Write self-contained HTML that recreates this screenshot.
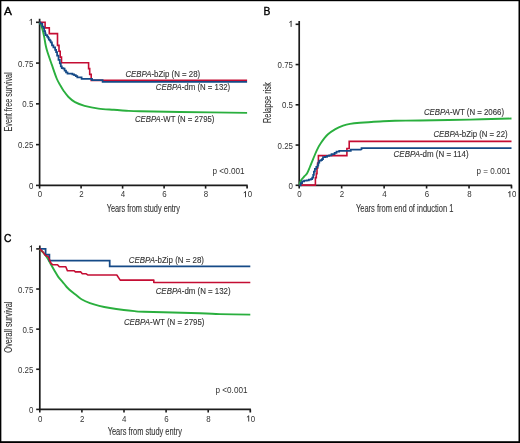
<!DOCTYPE html>
<html><head><meta charset="utf-8"><style>
html,body{margin:0;padding:0;background:#fff;}
body{width:520px;height:443px;overflow:hidden;position:relative;}
svg{position:absolute;left:0;top:0;display:block;will-change:transform;}
.t,.lg,.ti,.pv,.lab{font-family:"Liberation Sans",sans-serif;fill:#333333;}
.t{font-size:8.6px;}
.lg{font-size:8.5px;stroke:#333333;stroke-width:0.12px;}
.ti{font-size:10.4px;stroke:#333333;stroke-width:0.1px;}
.pv{font-size:8.5px;}
.lab{font-size:11.8px;font-weight:normal;fill:#000;stroke:#000;stroke-width:0.4px;}
</style></head><body>
<svg width="520" height="443" viewBox="0 0 520 443">
<rect x="0" y="0" width="520" height="443" fill="#fff"/>
<text x="4.0" y="15.4" class="lab">A</text>
<path d="M39.6,18.8 L39.6,185.4 L247.7,185.4 M247.1,185.4 L247.1,188.6" fill="none" stroke="#1c1c1c" stroke-width="1.7"/>
<line x1="36.0" y1="185.40" x2="39.6" y2="185.40" stroke="#1c1c1c" stroke-width="1.6"/>
<text x="33.3" y="188.90" text-anchor="end" class="t" textLength="4.40" lengthAdjust="spacingAndGlyphs">0</text>
<line x1="36.0" y1="144.62" x2="39.6" y2="144.62" stroke="#1c1c1c" stroke-width="1.6"/>
<text x="33.3" y="148.12" text-anchor="end" class="t" textLength="15.40" lengthAdjust="spacingAndGlyphs">0.25</text>
<line x1="36.0" y1="103.85" x2="39.6" y2="103.85" stroke="#1c1c1c" stroke-width="1.6"/>
<text x="33.3" y="107.35" text-anchor="end" class="t" textLength="11.00" lengthAdjust="spacingAndGlyphs">0.5</text>
<line x1="36.0" y1="63.08" x2="39.6" y2="63.08" stroke="#1c1c1c" stroke-width="1.6"/>
<text x="33.3" y="66.58" text-anchor="end" class="t" textLength="15.40" lengthAdjust="spacingAndGlyphs">0.75</text>
<line x1="36.0" y1="22.30" x2="39.6" y2="22.30" stroke="#1c1c1c" stroke-width="1.6"/>
<path d="M31.40,19.00 L31.40,24.90 M31.75,19.15 L29.65,20.45" fill="none" stroke="#333333" stroke-width="0.95"/>
<line x1="39.60" y1="185.4" x2="39.60" y2="188.6" stroke="#1c1c1c" stroke-width="1.6"/>
<text x="39.90" y="197.2" text-anchor="middle" class="t" textLength="4.40" lengthAdjust="spacingAndGlyphs">0</text>
<line x1="81.10" y1="185.4" x2="81.10" y2="188.6" stroke="#1c1c1c" stroke-width="1.6"/>
<text x="81.40" y="197.2" text-anchor="middle" class="t" textLength="4.40" lengthAdjust="spacingAndGlyphs">2</text>
<line x1="122.60" y1="185.4" x2="122.60" y2="188.6" stroke="#1c1c1c" stroke-width="1.6"/>
<text x="122.90" y="197.2" text-anchor="middle" class="t" textLength="4.40" lengthAdjust="spacingAndGlyphs">4</text>
<line x1="164.10" y1="185.4" x2="164.10" y2="188.6" stroke="#1c1c1c" stroke-width="1.6"/>
<text x="164.40" y="197.2" text-anchor="middle" class="t" textLength="4.40" lengthAdjust="spacingAndGlyphs">6</text>
<line x1="205.60" y1="185.4" x2="205.60" y2="188.6" stroke="#1c1c1c" stroke-width="1.6"/>
<text x="205.90" y="197.2" text-anchor="middle" class="t" textLength="4.40" lengthAdjust="spacingAndGlyphs">8</text>
<path d="M245.50,191.40 L245.50,197.20 M245.85,191.55 L243.75,192.85" fill="none" stroke="#333333" stroke-width="0.95"/>
<text x="249.85" y="197.2" text-anchor="middle" class="t" textLength="4.40" lengthAdjust="spacingAndGlyphs">0</text>
<text transform="translate(11.9,131.5) rotate(-90)" x="0" y="0" class="ti" textLength="59.1" lengthAdjust="spacingAndGlyphs">Event free survival</text>
<text x="106.69999999999999" y="212.10000000000002" class="ti" textLength="73.3" lengthAdjust="spacingAndGlyphs">Years from study entry</text>
<path d="M39.60,22.30 C40.03,23.33 41.43,26.07 42.20,28.50 C42.97,30.93 43.63,34.18 44.20,36.90 C44.77,39.62 45.08,42.37 45.60,44.80 C46.12,47.23 46.28,48.23 47.30,51.50 C48.32,54.77 50.13,59.90 51.70,64.40 C53.27,68.90 55.25,74.98 56.70,78.50 C58.15,82.02 59.20,83.38 60.40,85.50 C61.60,87.62 62.55,89.28 63.90,91.20 C65.25,93.12 66.65,95.17 68.50,97.00 C70.35,98.83 72.32,100.73 75.00,102.20 C77.68,103.67 80.68,104.73 84.60,105.80 C88.52,106.87 93.63,107.93 98.50,108.60 C103.37,109.27 109.18,109.45 113.80,109.80 C118.42,110.15 121.83,110.45 126.20,110.70 C130.57,110.95 131.03,111.08 140.00,111.30 C148.97,111.52 162.15,111.73 180.00,112.00 C197.85,112.27 235.92,112.75 247.10,112.90" fill="none" stroke="#2aaf3e" stroke-width="1.9" stroke-linejoin="round"/>
<path d="M39.60,22.30 L45.10,22.30 L45.10,27.90 L49.30,27.90 L49.30,33.60 L57.50,33.60 L57.50,45.40 L59.00,45.40 L59.00,51.20 L60.20,51.20 L60.20,57.10 L61.50,57.10 L61.50,62.80 L88.60,62.80 L88.60,68.60 L89.70,68.60 L89.70,74.40 L91.20,74.40 L91.20,80.40 L247.10,80.40 L247.10,80.40" fill="none" stroke="#c40d33" stroke-width="1.6" stroke-linejoin="miter"/>
<path d="M39.60,22.30 L40.30,22.30 L40.30,23.70 L42.30,23.70 L42.30,26.50 L43.70,26.50 L43.70,28.20 L44.20,28.20 L44.20,31.00 L45.10,31.00 L45.10,33.30 L45.60,33.30 L45.60,35.00 L47.10,35.00 L47.10,36.70 L48.20,36.70 L48.20,37.80 L48.80,37.80 L48.80,39.50 L49.90,39.50 L49.90,40.60 L50.70,40.60 L50.70,42.30 L51.90,42.30 L51.90,43.75 L52.00,43.75 L52.00,45.40 L53.40,45.40 L53.40,47.40 L55.10,47.40 L55.10,49.80 L56.10,49.80 L56.10,52.20 L57.10,52.20 L57.10,55.50 L58.50,55.50 L58.50,59.90 L59.80,59.90 L59.80,63.30 L60.80,63.30 L60.80,66.40 L61.80,66.40 L61.80,68.10 L63.40,68.10 L63.40,68.50 L64.60,68.50 L64.60,70.70 L66.00,70.70 L66.00,72.40 L67.50,72.40 L67.50,73.50 L71.20,73.50 L72.40,73.50 L72.40,74.40 L74.10,74.40 L74.10,75.00 L75.80,75.00 L75.80,76.10 L77.30,76.10 L77.30,77.30 L80.50,77.30 L81.60,77.30 L81.60,78.90 L92.00,78.90 L92.00,80.10 L102.60,80.10 L102.60,80.30 L102.60,81.80 L247.10,81.80" fill="none" stroke="#154a87" stroke-width="1.75" stroke-linejoin="miter"/>
<text x="125.39999999999999" y="77.0" class="lg" textLength="74.8" lengthAdjust="spacingAndGlyphs"><tspan font-style="italic">CEBPA</tspan>-bZip (N = 28)</text>
<text x="155.79999999999998" y="90.2" class="lg" textLength="74.4" lengthAdjust="spacingAndGlyphs"><tspan font-style="italic">CEBPA</tspan>-dm (N = 132)</text>
<text x="135.0" y="122.4" class="lg" textLength="79.4" lengthAdjust="spacingAndGlyphs"><tspan font-style="italic">CEBPA</tspan>-WT (N = 2795)</text>
<text x="212.5" y="173.8" class="pv" textLength="32.1" lengthAdjust="spacingAndGlyphs">p &lt;0.001</text>
<text x="263.6" y="15.3" class="lab" textLength="6.9" lengthAdjust="spacingAndGlyphs">B</text>
<path d="M299.2,21.0 L299.2,185.3 L512.1,185.3 M511.5,185.3 L511.5,188.5" fill="none" stroke="#1c1c1c" stroke-width="1.7"/>
<line x1="295.59999999999997" y1="185.30" x2="299.2" y2="185.30" stroke="#1c1c1c" stroke-width="1.6"/>
<text x="293.0" y="188.80" text-anchor="end" class="t" textLength="4.40" lengthAdjust="spacingAndGlyphs">0</text>
<line x1="295.59999999999997" y1="145.05" x2="299.2" y2="145.05" stroke="#1c1c1c" stroke-width="1.6"/>
<text x="293.0" y="148.55" text-anchor="end" class="t" textLength="15.40" lengthAdjust="spacingAndGlyphs">0.25</text>
<line x1="295.59999999999997" y1="104.80" x2="299.2" y2="104.80" stroke="#1c1c1c" stroke-width="1.6"/>
<text x="293.0" y="108.30" text-anchor="end" class="t" textLength="11.00" lengthAdjust="spacingAndGlyphs">0.5</text>
<line x1="295.59999999999997" y1="64.55" x2="299.2" y2="64.55" stroke="#1c1c1c" stroke-width="1.6"/>
<text x="293.0" y="68.05" text-anchor="end" class="t" textLength="15.40" lengthAdjust="spacingAndGlyphs">0.75</text>
<line x1="295.59999999999997" y1="24.30" x2="299.2" y2="24.30" stroke="#1c1c1c" stroke-width="1.6"/>
<path d="M291.10,21.00 L291.10,26.90 M291.45,21.15 L289.35,22.45" fill="none" stroke="#333333" stroke-width="0.95"/>
<line x1="299.20" y1="185.3" x2="299.20" y2="188.5" stroke="#1c1c1c" stroke-width="1.6"/>
<text x="299.50" y="197.2" text-anchor="middle" class="t" textLength="4.40" lengthAdjust="spacingAndGlyphs">0</text>
<line x1="341.66" y1="185.3" x2="341.66" y2="188.5" stroke="#1c1c1c" stroke-width="1.6"/>
<text x="341.96" y="197.2" text-anchor="middle" class="t" textLength="4.40" lengthAdjust="spacingAndGlyphs">2</text>
<line x1="384.12" y1="185.3" x2="384.12" y2="188.5" stroke="#1c1c1c" stroke-width="1.6"/>
<text x="384.42" y="197.2" text-anchor="middle" class="t" textLength="4.40" lengthAdjust="spacingAndGlyphs">4</text>
<line x1="426.58" y1="185.3" x2="426.58" y2="188.5" stroke="#1c1c1c" stroke-width="1.6"/>
<text x="426.88" y="197.2" text-anchor="middle" class="t" textLength="4.40" lengthAdjust="spacingAndGlyphs">6</text>
<line x1="469.04" y1="185.3" x2="469.04" y2="188.5" stroke="#1c1c1c" stroke-width="1.6"/>
<text x="469.34" y="197.2" text-anchor="middle" class="t" textLength="4.40" lengthAdjust="spacingAndGlyphs">8</text>
<path d="M509.90,191.40 L509.90,197.20 M510.25,191.55 L508.15,192.85" fill="none" stroke="#333333" stroke-width="0.95"/>
<text x="514.25" y="197.2" text-anchor="middle" class="t" textLength="4.40" lengthAdjust="spacingAndGlyphs">0</text>
<text transform="translate(270.9,123.0) rotate(-90)" x="0" y="0" class="ti" textLength="40.7" lengthAdjust="spacingAndGlyphs">Relapse risk</text>
<text x="355.90000000000003" y="212.3" class="ti" textLength="97.5" lengthAdjust="spacingAndGlyphs">Years from end of induction 1</text>
<path d="M299.20,185.30 C299.52,184.47 300.25,181.78 301.10,180.30 C301.95,178.82 303.32,177.53 304.30,176.40 C305.28,175.27 306.07,175.07 307.00,173.50 C307.93,171.93 308.85,169.47 309.90,167.00 C310.95,164.53 312.15,161.48 313.30,158.70 C314.45,155.92 315.53,152.92 316.80,150.30 C318.07,147.68 319.08,145.63 320.90,143.00 C322.72,140.37 325.28,136.82 327.70,134.50 C330.12,132.18 332.83,130.57 335.40,129.10 C337.97,127.63 340.67,126.57 343.10,125.70 C345.53,124.83 347.18,124.38 350.00,123.90 C352.82,123.42 355.00,123.20 360.00,122.80 C365.00,122.40 374.17,121.83 380.00,121.50 C385.83,121.17 388.33,120.97 395.00,120.80 C401.67,120.63 407.50,120.70 420.00,120.50 C432.50,120.30 454.75,119.93 470.00,119.60 C485.25,119.27 504.58,118.68 511.50,118.50" fill="none" stroke="#2aaf3e" stroke-width="1.9" stroke-linejoin="round"/>
<path d="M299.20,185.10 L315.40,185.10 L315.40,177.60 L316.30,177.60 L316.30,173.60 L317.00,173.60 L317.00,168.20 L317.60,168.20 L317.60,163.40 L318.40,163.40 L318.40,155.60 L346.90,155.60 L346.90,148.50 L349.20,148.50 L349.20,141.40 L511.50,141.40" fill="none" stroke="#c40d33" stroke-width="1.6" stroke-linejoin="miter"/>
<path d="M299.20,185.30 L300.70,185.30 L300.70,183.00 L302.10,183.00 L302.10,181.40 L304.10,181.40 L304.10,180.70 L306.80,180.70 L306.80,180.30 L308.80,180.30 L308.80,179.70 L310.90,179.70 L310.90,179.00 L312.20,179.00 L312.20,177.60 L313.20,177.60 L313.20,174.90 L313.90,174.90 L313.90,171.50 L314.90,171.50 L314.90,168.80 L316.30,168.80 L316.30,166.80 L317.60,166.80 L317.60,165.40 L318.30,165.40 L318.30,162.70 L319.30,162.70 L319.30,160.70 L321.00,160.70 L321.00,160.00 L322.00,160.00 L322.00,159.00 L323.00,159.00 L323.00,157.20 L325.00,157.20 L325.00,156.80 L327.00,156.80 L327.00,155.90 L329.20,155.90 L329.20,155.40 L331.50,155.40 L331.50,154.20 L334.60,154.20 L334.60,152.80 L336.50,152.80 L336.50,151.60 L339.20,151.60 L339.20,150.80 L347.70,150.80 L350.80,150.80 L350.80,149.70 L361.50,149.70 L361.50,149.90 L361.50,148.00 L511.50,148.00" fill="none" stroke="#154a87" stroke-width="1.75" stroke-linejoin="miter"/>
<text x="423.90000000000003" y="114.8" class="lg" textLength="80.2" lengthAdjust="spacingAndGlyphs"><tspan font-style="italic">CEBPA</tspan>-WT (N = 2066)</text>
<text x="433.40000000000003" y="136.8" class="lg" textLength="74.2" lengthAdjust="spacingAndGlyphs"><tspan font-style="italic">CEBPA</tspan>-bZip (N = 22)</text>
<text x="393.6" y="156.5" class="lg" textLength="75.0" lengthAdjust="spacingAndGlyphs"><tspan font-style="italic">CEBPA</tspan>-dm (N = 114)</text>
<text x="476.5" y="173.8" class="pv" textLength="33.9" lengthAdjust="spacingAndGlyphs">p = 0.001</text>
<text x="3.9" y="242.4" class="lab" textLength="7.4" lengthAdjust="spacingAndGlyphs">C</text>
<path d="M39.8,245.5 L39.8,409.4 L250.9,409.4 M250.3,409.4 L250.3,412.59999999999997" fill="none" stroke="#1c1c1c" stroke-width="1.7"/>
<line x1="36.199999999999996" y1="409.40" x2="39.8" y2="409.40" stroke="#1c1c1c" stroke-width="1.6"/>
<text x="33.4" y="412.90" text-anchor="end" class="t" textLength="4.40" lengthAdjust="spacingAndGlyphs">0</text>
<line x1="36.199999999999996" y1="369.27" x2="39.8" y2="369.27" stroke="#1c1c1c" stroke-width="1.6"/>
<text x="33.4" y="372.77" text-anchor="end" class="t" textLength="15.40" lengthAdjust="spacingAndGlyphs">0.25</text>
<line x1="36.199999999999996" y1="329.15" x2="39.8" y2="329.15" stroke="#1c1c1c" stroke-width="1.6"/>
<text x="33.4" y="332.65" text-anchor="end" class="t" textLength="11.00" lengthAdjust="spacingAndGlyphs">0.5</text>
<line x1="36.199999999999996" y1="289.02" x2="39.8" y2="289.02" stroke="#1c1c1c" stroke-width="1.6"/>
<text x="33.4" y="292.52" text-anchor="end" class="t" textLength="15.40" lengthAdjust="spacingAndGlyphs">0.75</text>
<line x1="36.199999999999996" y1="248.90" x2="39.8" y2="248.90" stroke="#1c1c1c" stroke-width="1.6"/>
<path d="M31.50,245.60 L31.50,251.50 M31.85,245.75 L29.75,247.05" fill="none" stroke="#333333" stroke-width="0.95"/>
<line x1="39.80" y1="409.4" x2="39.80" y2="412.59999999999997" stroke="#1c1c1c" stroke-width="1.6"/>
<text x="40.10" y="421.5" text-anchor="middle" class="t" textLength="4.40" lengthAdjust="spacingAndGlyphs">0</text>
<line x1="81.90" y1="409.4" x2="81.90" y2="412.59999999999997" stroke="#1c1c1c" stroke-width="1.6"/>
<text x="82.20" y="421.5" text-anchor="middle" class="t" textLength="4.40" lengthAdjust="spacingAndGlyphs">2</text>
<line x1="124.00" y1="409.4" x2="124.00" y2="412.59999999999997" stroke="#1c1c1c" stroke-width="1.6"/>
<text x="124.30" y="421.5" text-anchor="middle" class="t" textLength="4.40" lengthAdjust="spacingAndGlyphs">4</text>
<line x1="166.10" y1="409.4" x2="166.10" y2="412.59999999999997" stroke="#1c1c1c" stroke-width="1.6"/>
<text x="166.40" y="421.5" text-anchor="middle" class="t" textLength="4.40" lengthAdjust="spacingAndGlyphs">6</text>
<line x1="208.20" y1="409.4" x2="208.20" y2="412.59999999999997" stroke="#1c1c1c" stroke-width="1.6"/>
<text x="208.50" y="421.5" text-anchor="middle" class="t" textLength="4.40" lengthAdjust="spacingAndGlyphs">8</text>
<path d="M248.70,415.70 L248.70,421.50 M249.05,415.85 L246.95,417.15" fill="none" stroke="#333333" stroke-width="0.95"/>
<text x="253.05" y="421.5" text-anchor="middle" class="t" textLength="4.40" lengthAdjust="spacingAndGlyphs">0</text>
<text transform="translate(12.4,352.7) rotate(-90)" x="0" y="0" class="ti" textLength="51.2" lengthAdjust="spacingAndGlyphs">Overall survival</text>
<text x="107.69999999999999" y="435.40000000000003" class="ti" textLength="74.2" lengthAdjust="spacingAndGlyphs">Years from study entry</text>
<path d="M39.80,248.90 C40.42,249.58 42.30,251.58 43.50,253.00 C44.70,254.42 45.80,255.57 47.00,257.40 C48.20,259.23 49.42,261.73 50.70,264.00 C51.98,266.27 53.47,268.90 54.70,271.00 C55.93,273.10 57.02,275.03 58.10,276.60 C59.18,278.17 60.17,279.17 61.20,280.40 C62.23,281.63 63.22,282.73 64.30,284.00 C65.38,285.27 66.48,286.73 67.70,288.00 C68.92,289.27 70.20,290.42 71.60,291.60 C73.00,292.78 74.45,293.83 76.10,295.10 C77.75,296.37 79.18,297.87 81.50,299.20 C83.82,300.53 87.05,302.00 90.00,303.10 C92.95,304.20 95.87,304.98 99.20,305.80 C102.53,306.62 105.90,307.30 110.00,308.00 C114.10,308.70 119.70,309.48 123.80,310.00 C127.90,310.52 131.27,310.82 134.60,311.10 C137.93,311.38 132.90,311.33 143.80,311.70 C154.70,312.07 187.30,312.90 200.00,313.30 C212.70,313.70 211.62,313.88 220.00,314.10 C228.38,314.32 245.25,314.52 250.30,314.60" fill="none" stroke="#2aaf3e" stroke-width="1.9" stroke-linejoin="round"/>
<path d="M39.80,248.80 L45.60,248.80 L45.60,254.60 L49.40,254.60 L49.40,260.50 L109.70,260.50 L109.70,266.30 L250.30,266.30 L250.30,266.30" fill="none" stroke="#154a87" stroke-width="1.75" stroke-linejoin="miter"/>
<path d="M39.80,248.90 L41.00,250.20 L42.30,251.40 L43.70,252.80 L45.00,254.90 L46.10,255.80 L48.00,256.30 L49.10,258.50 L50.20,261.70 L51.30,263.60 L52.60,264.70 L57.50,264.70 L59.10,266.60 L65.80,266.70 L67.40,270.70 L74.20,270.70 L75.40,271.90 L80.80,271.90 L82.30,273.80 L86.20,273.80 L87.70,274.90 L116.80,275.00 L120.20,280.10 L153.80,280.10 L153.80,282.50 L250.30,282.50" fill="none" stroke="#c40d33" stroke-width="1.6" stroke-linejoin="round"/>
<text x="128.7" y="263.1" class="lg" textLength="75.3" lengthAdjust="spacingAndGlyphs"><tspan font-style="italic">CEBPA</tspan>-bZip (N = 28)</text>
<text x="155.7" y="294.3" class="lg" textLength="74.9" lengthAdjust="spacingAndGlyphs"><tspan font-style="italic">CEBPA</tspan>-dm (N = 132)</text>
<text x="123.89999999999999" y="324.8" class="lg" textLength="80.6" lengthAdjust="spacingAndGlyphs"><tspan font-style="italic">CEBPA</tspan>-WT (N = 2795)</text>
<text x="215.5" y="393.3" class="pv" textLength="32.0" lengthAdjust="spacingAndGlyphs">p &lt;0.001</text>
<rect x="0" y="0" width="520" height="1.2" fill="#000"/><rect x="0" y="0" width="1.35" height="443" fill="#000"/><rect x="518.5" y="0" width="1.5" height="443" fill="#000"/><rect x="0" y="441.2" width="520" height="1.8" fill="#000"/>
</svg>
</body></html>
